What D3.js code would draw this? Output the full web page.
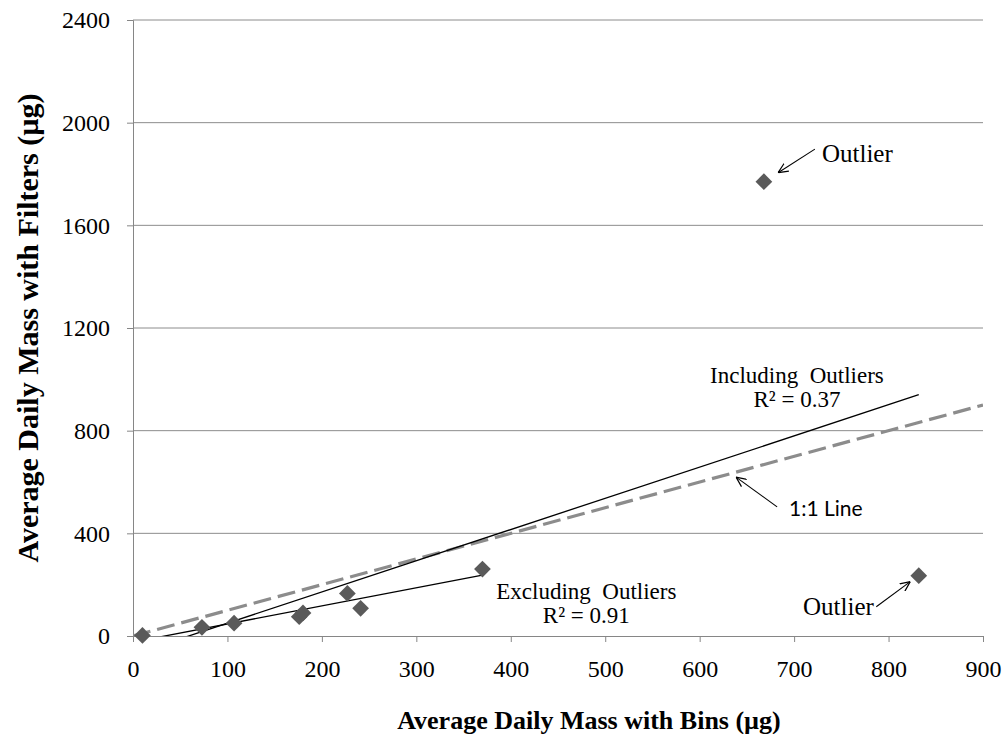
<!DOCTYPE html>
<html>
<head>
<meta charset="utf-8">
<script src="https://cdn.jsdelivr.net/npm/d3@7"></script>
<style>
  body { margin: 0; background: #fff; }
  svg { display: block; }
  .serif { font-family: "Liberation Serif", "Times New Roman", serif; }
</style>
</head>
<body>
<svg id="chart" width="1008" height="734"></svg>
<script>
// Average daily mass collected with bins (x) against filters (y), µg
const binsMass   = [10, 73, 107, 176, 180, 227, 241, 370, 668, 832];
const filterMass = [2, 34, 50, 75, 90, 166, 108, 261, 1770, 235];
const isOutlier  = [false, false, false, false, false, false, false, false, true, true];

const xTicks = [0, 100, 200, 300, 400, 500, 600, 700, 800, 900];
const yTicks = [0, 400, 800, 1200, 1600, 2000, 2400];
const oneToOne = [0, 900];

const xTitle = "Average Daily Mass with Bins (µg)";
const yTitle = "Average Daily Mass with Filters (µg)";

// annotation anchors, in data units
const inclLabel  = { x: 703, y: 986 };
const exclLabel  = { x: 480, y: 144 };
const lineLabel  = { x: 694.6, y: 467 };
const outlierLabels = [
  { text: "Outlier", x: 729.5, y: 1847, from: [722, 1897], to: [683, 1805] },
  { text: "Outlier", x: 709.4, y: 82,   from: [787, 114],  to: [823, 212] }
];
const lineArrow = { from: [682, 503], to: [638.5, 619] };

const W = 1008, H = 734;
const margin = { left: 133, right: 25, top: 20, bottom: 98 };

const x = d3.scaleLinear().domain([0, 900]).range([margin.left, W - margin.right]);
const y = d3.scaleLinear().domain([0, 2400]).range([H - margin.bottom, margin.top]);

const svg = d3.select("#chart");

// least-squares fit with coefficient of determination
function fit(xs, ys) {
  const n = xs.length;
  const mx = d3.mean(xs), my = d3.mean(ys);
  let sxx = 0, sxy = 0, syy = 0;
  for (let i = 0; i < n; i++) {
    const dx = xs[i] - mx, dy = ys[i] - my;
    sxx += dx * dx; sxy += dx * dy; syy += dy * dy;
  }
  const slope = sxy / sxx;
  return { slope, intercept: my - slope * mx, r2: (sxy * sxy) / (sxx * syy),
           x0: d3.min(xs), x1: d3.max(xs) };
}

const allFit = fit(binsMass, filterMass);
const keptX = binsMass.filter((d, i) => !isOutlier[i]);
const keptY = filterMass.filter((d, i) => !isOutlier[i]);
const keptFit = fit(keptX, keptY);

const defs = svg.append("defs");
// open arrowhead
defs.append("marker")
  .attr("id", "arrow")
  .attr("viewBox", "0 0 10 10")
  .attr("refX", 10).attr("refY", 5)
  .attr("markerWidth", 10).attr("markerHeight", 10)
  .attr("markerUnits", "userSpaceOnUse")
  .attr("orient", "auto")
  .append("path")
  .attr("d", "M0,0.5 L10,5 L0,9.5")
  .attr("fill", "none").attr("stroke", "#000").attr("stroke-width", 1.2);

defs.append("clipPath").attr("id", "plot")
  .append("rect")
  .attr("x", margin.left).attr("y", margin.top)
  .attr("width", x(900) - x(0)).attr("height", y(0) - y(2400));

// horizontal gridlines
svg.append("g")
  .selectAll("line")
  .data(yTicks.filter(d => d > 0))
  .join("line")
  .attr("x1", x(0)).attr("x2", x(900))
  .attr("y1", d => y(d)).attr("y2", d => y(d))
  .attr("stroke", "#8c8c8c").attr("stroke-width", 1);

// axes
const xAxis = svg.append("g")
  .attr("transform", `translate(0,${y(0)})`)
  .call(d3.axisBottom(x).tickValues(xTicks).tickSize(6).tickFormat(d3.format("d")));
const yAxis = svg.append("g")
  .attr("transform", `translate(${x(0)},0)`)
  .call(d3.axisLeft(y).tickValues(yTicks).tickSize(6).tickPadding(17).tickFormat(d3.format("d")));

[xAxis, yAxis].forEach(g => {
  g.attr("font-family", null).attr("font-size", null).classed("serif", true);
  g.select(".domain").attr("stroke", "#868686").attr("stroke-width", 1);
  g.selectAll(".tick line").attr("stroke", "#868686");
  g.selectAll(".tick text")
    .classed("serif", true)
    .style("font-size", "24px").attr("fill", "#000");
});
xAxis.selectAll(".tick text").attr("y", 41).attr("dy", null);

const plot = svg.append("g").attr("clip-path", "url(#plot)");

// 1:1 reference line
plot.append("line")
  .attr("x1", x(oneToOne[0])).attr("y1", y(oneToOne[0]))
  .attr("x2", x(oneToOne[1])).attr("y2", y(oneToOne[1]))
  .attr("stroke", "#8c8c8c").attr("stroke-width", 3.2)
  .attr("stroke-dasharray", "18,7");

// trendlines
[allFit, keptFit].forEach(f => {
  plot.append("line")
    .attr("x1", x(f.x0)).attr("y1", y(f.slope * f.x0 + f.intercept))
    .attr("x2", x(f.x1)).attr("y2", y(f.slope * f.x1 + f.intercept))
    .attr("stroke", "#000").attr("stroke-width", 1.3);
});

// markers
const diamond = d3.symbol().type(d3.symbolSquare).size(140);
svg.append("g")
  .selectAll("path")
  .data(binsMass.map((d, i) => [d, filterMass[i]]))
  .join("path")
  .attr("d", diamond)
  .attr("transform", d => `translate(${x(d[0])},${y(d[1])}) rotate(45)`)
  .attr("fill", "#5a5a5a");

// trendline labels
const fmt = d3.format(".2f");
function twoLine(anchor, lines) {
  const t = svg.append("text")
    .classed("serif", true).style("font-size", "23px")
    .attr("text-anchor", "middle").attr("fill", "#000")
    .attr("xml:space", "preserve");
  lines.forEach((s, i) => {
    t.append("tspan").attr("x", x(anchor.x)).attr("y", y(anchor.y) + i * 24).text(s);
  });
}
twoLine(inclLabel, ["Including  Outliers", "R² = " + fmt(allFit.r2)]);
twoLine(exclLabel, ["Excluding  Outliers", "R² = " + fmt(keptFit.r2)]);

// outlier call-outs
outlierLabels.forEach(o => {
  svg.append("text")
    .attr("x", x(o.x)).attr("y", y(o.y))
    .classed("serif", true).style("font-size", "25px").attr("fill", "#000")
    .text(o.text);
  svg.append("line")
    .attr("x1", x(o.from[0])).attr("y1", y(o.from[1]))
    .attr("x2", x(o.to[0])).attr("y2", y(o.to[1]))
    .attr("stroke", "#000").attr("stroke-width", 1.1)
    .attr("marker-end", "url(#arrow)");
});

// 1:1 line call-out
svg.append("text")
  .attr("x", x(lineLabel.x)).attr("y", y(lineLabel.y))
  .style("font-family", "Lato, 'Liberation Sans', sans-serif").style("font-size", "21px")
  .attr("fill", "#000")
  .text("1:1 Line");
svg.append("line")
  .attr("x1", x(lineArrow.from[0])).attr("y1", y(lineArrow.from[1]))
  .attr("x2", x(lineArrow.to[0])).attr("y2", y(lineArrow.to[1]))
  .attr("stroke", "#000").attr("stroke-width", 1.1)
  .attr("marker-end", "url(#arrow)");

// axis titles
svg.append("text")
  .attr("x", 589).attr("y", 729)
  .attr("text-anchor", "middle")
  .classed("serif", true).style("font-size", "26px").style("font-weight", "bold")
  .text(xTitle);

svg.append("text")
  .attr("transform", `translate(38,${(y(0) + y(2400)) / 2}) rotate(-90)`)
  .attr("text-anchor", "middle")
  .classed("serif", true).style("font-size", "30px").style("font-weight", "bold")
  .text(yTitle);
</script>
</body>
</html>
